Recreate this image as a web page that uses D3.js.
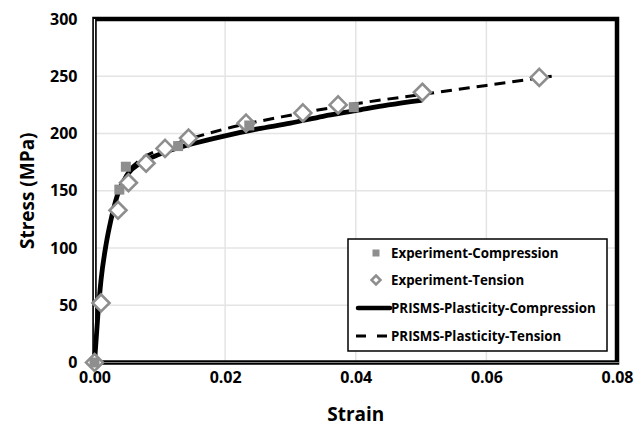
<!DOCTYPE html>
<html>
<head>
<meta charset="utf-8">
<script src="https://cdn.jsdelivr.net/npm/d3@7"></script>
<style>
  html, body { margin: 0; padding: 0; background: #fff; }
  svg { display: block; font-family: "Open Sans", "Liberation Sans", sans-serif; font-weight: 700; }
</style>
</head>
<body>
<div id="chart"></div>
<script>
// Experiment markers (strain, MPa)
const compStrain = [0, 0.0038, 0.0048, 0.0128, 0.0237, 0.0397];
const compStress = [0, 151, 171, 189, 207, 223];

const tensStrain = [0, 0.0010, 0.0036, 0.0052, 0.0079, 0.0108, 0.0144, 0.0232, 0.0319, 0.0373, 0.0502, 0.0681];
const tensStress = [0, 52, 133, 157, 174, 187, 196, 209, 218, 225, 236, 249];

// PRISMS-Plasticity curves
const simCompStrain = [0, 0.0005, 0.001, 0.0018, 0.0025, 0.0035, 0.005, 0.007, 0.01, 0.015, 0.02, 0.025, 0.03, 0.035, 0.04, 0.045, 0.05];
const simCompStress = [0, 40, 72, 104, 124, 146, 164, 174, 182, 191, 198, 204, 209, 215, 220, 225, 229];

const simTensStrain = [0, 0.0005, 0.001, 0.0018, 0.0025, 0.0035, 0.005, 0.007, 0.01, 0.015, 0.02, 0.03, 0.04, 0.05, 0.06, 0.07];
const simTensStress = [0, 40, 72, 104, 124, 146, 165, 177, 186, 196, 204, 216, 226, 234, 242, 250];

const xTicks = [0, 0.02, 0.04, 0.06, 0.08];
const yTicks = [0, 50, 100, 150, 200, 250, 300];

const legendLabels = ["Experiment-Compression", "Experiment-Tension", "PRISMS-Plasticity-Compression", "PRISMS-Plasticity-Tension"];

const W = 644, H = 426;
const markerGray = "#8e8e8e";

const svg = d3.select("#chart").append("svg").attr("width", W).attr("height", H);

const x = d3.scaleLinear().domain([0, 0.08]).range([94.5, 617]);
const y = d3.scaleLinear().domain([0, 300]).range([362.5, 19]);

// gridlines
svg.append("g").selectAll("line").data(yTicks.slice(1, -1)).join("line")
  .attr("x1", x(0)).attr("x2", x(0.08))
  .attr("y1", d => y(d)).attr("y2", d => y(d))
  .attr("stroke", "#e4e4e4").attr("stroke-width", 1.5);
svg.append("g").selectAll("line").data(xTicks.slice(1, -1)).join("line")
  .attr("x1", d => x(d)).attr("x2", d => x(d))
  .attr("y1", y(300)).attr("y2", y(0))
  .attr("stroke", "#e4e4e4").attr("stroke-width", 1.5);

// tick labels via axes, with lines hidden
const xAxis = svg.append("g").attr("transform", `translate(0,${y(0)})`)
  .call(d3.axisBottom(x).tickValues(xTicks).tickFormat(d3.format(".2f")).tickSize(0).tickPadding(9));
const yAxis = svg.append("g").attr("transform", `translate(${x(0)},0)`)
  .call(d3.axisLeft(y).tickValues(yTicks).tickSize(0).tickPadding(17));
[xAxis, yAxis].forEach(a => {
  a.select(".domain").remove();
  a.selectAll("text").attr("fill", "#000").style("font-size", "16px")
    .style("font-family", "'Open Sans', sans-serif").style("font-weight", 700);
});

// frame
svg.append("rect").attr("x", x(0)).attr("y", y(300))
  .attr("width", x(0.08) - x(0)).attr("height", y(0) - y(300))
  .attr("fill", "none").attr("stroke", "#000").attr("stroke-width", 4.5);
svg.append("line").attr("x1", x(0)).attr("x2", x(0.08) + 2).attr("y1", y(0)).attr("y2", y(0))
  .attr("stroke", "#808080").attr("stroke-width", 1.2);
svg.append("line").attr("x1", x(0)).attr("x2", x(0)).attr("y1", y(300)).attr("y2", y(0))
  .attr("stroke", "#fff").attr("stroke-width", 1.2);

// curves
const line = d3.line().x(d => x(d[0])).y(d => y(d[1])).curve(d3.curveMonotoneX);
svg.append("path").datum(d3.zip(simTensStrain, simTensStress))
  .attr("d", line).attr("fill", "none").attr("stroke", "#000")
  .attr("stroke-width", 3).attr("stroke-dasharray", "11,7");
svg.append("path").datum(d3.zip(simCompStrain, simCompStress))
  .attr("d", line).attr("fill", "none").attr("stroke", "#000")
  .attr("stroke-width", 4.8).attr("stroke-linecap", "round");

// markers
const diamond = r => `M0,${-r}L${r},0L0,${r}L${-r},0Z`;
svg.append("g").selectAll("path").data(d3.zip(tensStrain, tensStress)).join("path")
  .attr("transform", d => `translate(${x(d[0])},${y(d[1])})`)
  .attr("d", diamond(8.5)).attr("fill", "#fff")
  .attr("stroke", markerGray).attr("stroke-width", 2.6);
svg.append("g").selectAll("rect").data(d3.zip(compStrain, compStress)).join("rect")
  .attr("x", d => x(d[0]) - 5).attr("y", d => y(d[1]) - 5)
  .attr("width", 10).attr("height", 10).attr("fill", markerGray);

// legend
const lg = svg.append("g");
lg.append("rect").attr("x", 348).attr("y", 239).attr("width", 259).attr("height", 112)
  .attr("fill", "#fff").attr("stroke", "#000").attr("stroke-width", 1.5);
const rowY = [253, 280, 308, 336];
lg.append("rect").attr("x", 372.5).attr("y", rowY[0] - 3.5).attr("width", 7).attr("height", 7).attr("fill", markerGray);
lg.append("path").attr("transform", `translate(376,${rowY[1]})`).attr("d", diamond(4.5))
  .attr("fill", "#fff").attr("stroke", markerGray).attr("stroke-width", 2.5);
lg.append("line").attr("x1", 358).attr("x2", 390).attr("y1", rowY[2]).attr("y2", rowY[2])
  .attr("stroke", "#000").attr("stroke-width", 4.5).attr("stroke-linecap", "round");
lg.append("line").attr("x1", 356).attr("x2", 390).attr("y1", rowY[3]).attr("y2", rowY[3])
  .attr("stroke", "#000").attr("stroke-width", 3).attr("stroke-dasharray", "10,11");
lg.selectAll("text.lbl").data(legendLabels).join("text").attr("class", "lbl")
  .attr("x", 391).attr("y", (d, i) => rowY[i]).attr("dy", "0.35em")
  .style("font-size", "13.3px").text(d => d);

// axis titles
svg.append("text").attr("x", (x(0) + x(0.08)) / 2).attr("y", 414).attr("text-anchor", "middle")
  .attr("dy", "0.35em").style("font-size", "19px").text("Strain");
svg.append("text").attr("transform", `translate(27,${(y(0) + y(300)) / 2}) rotate(-90)`)
  .attr("text-anchor", "middle").attr("dy", "0.35em").style("font-size", "19px").text("Stress (MPa)");
</script>
</body>
</html>
